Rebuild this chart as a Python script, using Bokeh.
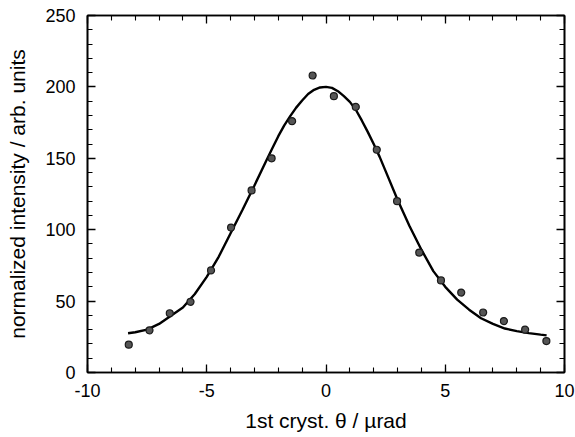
from bokeh.plotting import figure
from bokeh.models import (LinearAxis, SingleIntervalTicker, Range1d,
                          CustomLabelingPolicy)
from bokeh.embed import file_html
from bokeh.resources import INLINE

# measured points
theta = [-8.27, -7.40, -6.55, -5.68, -4.82, -3.98, -3.12, -2.28, -1.42, -0.56,
         0.33, 1.25, 2.13, 2.98, 3.91, 4.82, 5.67, 6.59, 7.46, 8.35, 9.24]
intensity = [19.5, 29.5, 41.5, 49.5, 71.5, 101.5, 127.5, 150.0, 176.0, 208.0,
             193.5, 186.0, 156.0, 120.0, 84.0, 64.5, 56.0, 42.0, 36.0, 30.0, 22.0]

# fitted curve
fit_x = [-8.3, -8.0, -7.5, -7.0, -6.5, -6.0, -5.5, -5.0, -4.5, -4.0, -3.5, -3.0,
         -2.5, -2.25, -2.0, -1.75, -1.5, -1.25, -1.0, -0.75, -0.5, -0.25, 0.0,
         0.25, 0.5, 0.75, 1.0, 1.25, 1.5, 1.75, 2.0, 2.25, 2.5, 3.0, 3.5,
         4.0, 4.5, 5.0, 5.5, 6.0, 6.5, 7.0, 7.5, 8.0, 8.5, 9.0, 9.25]
fit_y = [27.5, 28.2, 30.0, 34.0, 39.8, 45.5, 55.0, 67.0, 81.0, 97.5, 114.0, 131.0,
         148.5, 157.0, 165.5, 173.0, 179.5, 185.5, 190.5, 195.0, 198.0, 199.6, 200.0,
         199.3, 197.0, 193.5, 189.5, 184.0, 176.5, 168.5, 160.0, 151.0, 141.0, 121.0, 102.6,
         86.0, 71.0, 60.0, 51.0, 44.0, 38.0, 34.0, 30.8, 29.0, 27.6, 26.5, 26.0]

x_tick_labels = {-10: "-10", -5: "-5"}

x_label = "1st cryst. \u03b8 / \u00b5rad"
y_label = "normalized intensity / arb. units"

FONT = "Liberation Sans"

p = figure(width=575, height=437, output_backend="svg", toolbar_location=None,
           x_range=Range1d(-10, 10), y_range=Range1d(0, 250),
           min_border_left=87, min_border_right=11, min_border_top=15, min_border_bottom=65)
p.grid.visible = False
p.outline_line_color = "black"
p.outline_line_width = 1.6
p.background_fill_color = "white"
p.border_fill_color = "white"

hide_labels = CustomLabelingPolicy(code="""
try { indices.clear() } catch (e) {
  try { for (const i of Array.from(indices)) { indices.unset(i) } } catch (e2) {}
}
return indices
""")

def style(ax, labels=True):
    ax.axis_line_width = 1.6
    ax.axis_line_color = "black"
    ax.major_tick_in = 8
    ax.major_tick_out = 0
    ax.minor_tick_in = 5
    ax.minor_tick_out = 0
    ax.major_tick_line_width = 1.3
    ax.minor_tick_line_width = 1.1
    if labels:
        ax.major_label_text_font = FONT
        ax.major_label_text_font_size = "18px"
        ax.major_label_text_color = "black"
        ax.axis_label_text_font = FONT
        ax.axis_label_text_font_size = "21px"
        ax.axis_label_text_font_style = "normal"
        ax.axis_label_text_color = "black"
    else:
        ax.major_label_text_font_size = "0px"
        ax.major_label_standoff = 0
        ax.major_label_policy = hide_labels

p.xaxis.ticker = SingleIntervalTicker(interval=5, num_minor_ticks=5)
p.yaxis.ticker = SingleIntervalTicker(interval=50, num_minor_ticks=5)
p.xaxis.axis_label = x_label
p.yaxis.axis_label = y_label
style(p.xaxis[0])
style(p.yaxis[0])
p.xaxis.major_label_overrides = x_tick_labels
p.xaxis.major_label_standoff = 11
p.xaxis.axis_label_standoff = 9
p.yaxis.major_label_standoff = 12
p.yaxis.axis_label_standoff = 13

top = LinearAxis(ticker=SingleIntervalTicker(interval=5, num_minor_ticks=5))
right = LinearAxis(ticker=SingleIntervalTicker(interval=50, num_minor_ticks=5))
style(top, labels=False)
style(right, labels=False)
p.add_layout(top, "above")
p.add_layout(right, "right")

p.line(fit_x, fit_y, line_color="black", line_width=2.4)
p.scatter(theta, intensity, size=7, fill_color="#555555", line_color="#1a1a1a", line_width=1.2)

open("out.html", "w").write(file_html(p, INLINE))
